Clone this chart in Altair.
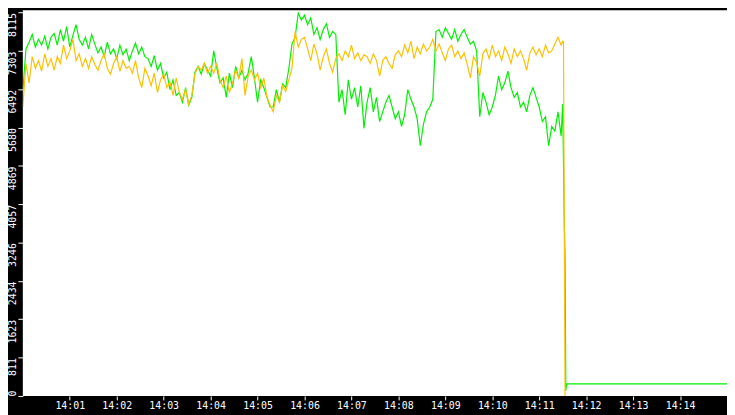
import altair as alt
import pandas as pd

green_vals = [
    6465, 7346, 7490, 7654, 7387, 7551, 7428, 7613, 7346, 7592,
    7674, 7428, 7756, 7510, 7818, 7387, 7633, 7859, 7551, 7428,
    7592, 7346, 7654, 7449, 7264, 7387, 7183, 7490, 7244, 7346,
    7142, 7428, 7223, 7346, 7100, 7305, 7469, 7244, 7387, 7183,
    7142, 6978, 7203, 6896, 7039, 6732, 6855, 6486, 6691, 6363,
    6424, 6219, 6527, 6158, 6322, 6855, 6978, 6814, 7039, 6896,
    6773, 7305, 6937, 6629, 6732, 6322, 6834, 6527, 6978, 6732,
    6896, 6691, 6834, 7183, 6732, 6219, 6691, 6527, 6322, 6117,
    6117, 6486, 6219, 6609, 6527, 6937, 7449, 7592, 8105, 7961,
    8064, 7859, 8002, 7654, 7797, 7551, 7756, 7879, 7592, 7715,
    7654, 6219, 6486, 5953, 6691, 6281, 6527, 6117, 6568, 5666,
    6219, 6527, 6015, 6322, 5810, 6015, 6219, 6363, 6117, 5871,
    6015, 5707, 5953, 6486, 6281, 6117, 5871, 5297, 5748, 6015,
    6117, 6281, 7715, 7756, 7592, 7797, 7674, 7551, 7756, 7510,
    7654, 7756, 7592, 7449, 7510, 7305, 5912, 6424, 6219, 5953,
    6117, 6363, 6773, 6486, 6629, 6875, 6527, 6322, 6424, 6117,
    6219, 6015, 6363, 6527, 6322, 6117, 5810, 5912, 5297, 5707,
    5605, 6015, 5502,
]
orange_vals = [
    6117, 7039, 6629, 7183, 6937, 7100, 6875, 7244, 6978, 7142,
    6896, 7183, 7039, 7428, 7142, 7305, 7551, 7100, 7244, 6978,
    7142, 6937, 7183, 7019, 6896, 7100, 7244, 6937, 6814, 7039,
    7183, 6875, 7100, 6937, 6978, 6834, 7100, 6732, 6527, 6937,
    6773, 6568, 6834, 6424, 6691, 6814, 6527, 6650, 6363, 6732,
    6424, 6281, 6486, 6178, 6363, 6814, 6978, 6896, 7039, 6834,
    6978, 6834, 7039, 6691, 6527, 6773, 6424, 6629, 6896, 6732,
    7142, 6363, 6773, 6896, 6691, 6834, 6527, 6732, 6322, 6158,
    6015, 6363, 6219, 6568, 6445, 6691, 6937, 7715, 7387, 7551,
    7592, 7346, 7100, 7449, 7244, 6896, 7183, 7346, 7039, 6855,
    7142, 7244, 7100, 7305, 7183, 7428, 7142, 7264, 7100, 7223,
    7183, 7039, 7244, 7100, 6773, 7100, 7183, 7039, 6937, 7223,
    7305, 7183, 7428, 7264, 7510, 7142, 7387, 7244, 7449, 7305,
    7387, 7551, 7305, 7449, 7264, 7100, 7346, 7428, 7183, 7305,
    7142, 7264, 7019, 6732, 7183, 7060, 6773, 7244, 7346, 7142,
    7428, 7183, 7305, 7100, 7387, 7244, 7039, 7346, 7183, 7305,
    7142, 6896, 7264, 7387, 7223, 7346, 7183, 7428, 7264, 7305,
    7449, 7592, 7428,
]
# tail of each series (after the regular samples)
green_tail_times = ["14:11:30", "14:11:32", "14:11:33", "14:11:34", "14:11:35", "14:15:00"]
green_tail_vals = [6178, 3740, 2900, 113, 256, 256]
orange_tail_times = ["14:11:30", "14:11:31", "14:11:33"]
orange_tail_vals = [7510, 7500, 0]

y_ticks = [0, 811, 1623, 2434, 3246, 4057, 4869, 5680, 6492, 7303, 8115]
x_tick_minutes = list(range(1, 15))

DAY = "2024-01-01T"
reg_times = [t.strftime("%Y-%m-%dT%H:%M:%S") for t in
             pd.date_range(DAY + "14:00:00", periods=len(green_vals), freq="4s")]

g = pd.DataFrame({"time": reg_times + [DAY + t for t in green_tail_times],
                  "value": green_vals + green_tail_vals})
o = pd.DataFrame({"time": reg_times[:len(orange_vals)] + [DAY + t for t in orange_tail_times],
                  "value": orange_vals + orange_tail_vals})

def dt(m):
    return alt.DateTime(year=2024, month=1, date=1, hours=14, minutes=m)

x_scale = alt.Scale(domain=[dt(0), dt(15)])
y_scale = alt.Scale(domain=[0, 8166], nice=False)

FONT = "DejaVu Sans Mono"
x_axis = alt.Axis(values=[dt(m) for m in x_tick_minutes],
                  format="%H:%M", title=None, grid=False, domain=False,
                  tickColor="white", tickSize=4, labelColor="white",
                  labelFont=FONT, labelFontSize=10, labelPadding=1)
y_axis = alt.Axis(values=y_ticks, format="d", title=None, grid=False, domain=False,
                  tickColor="white", tickSize=5, labelColor="white",
                  labelFont=FONT, labelFontSize=10, labelAngle=-90,
                  labelAlign={"condition": {"test": "datum.value == 0", "value": "left"},
                              "value": "right"},
                  labelBaseline="bottom", labelPadding=0)

green = alt.Chart(g).mark_line(color="#00f000", strokeWidth=1.2, clip=True).encode(
    x=alt.X("time:T", scale=x_scale, axis=x_axis),
    y=alt.Y("value:Q", scale=y_scale, axis=y_axis),
)
orange = alt.Chart(o).mark_line(color="#ffc000", strokeWidth=1.2, clip=True).encode(
    x=alt.X("time:T", scale=x_scale, axis=x_axis),
    y=alt.Y("value:Q", scale=y_scale, axis=y_axis),
)

chart = alt.layer(green, orange).properties(
    width=712, height=390,
    background="black",
    padding={"left": 15, "top": 0, "right": 0, "bottom": 17},
    autosize=alt.AutoSizeParams(type="none"),
).configure_view(fill="white", stroke=None)

chart.save("out.html", embed_options={"renderer": "svg", "actions": False})
